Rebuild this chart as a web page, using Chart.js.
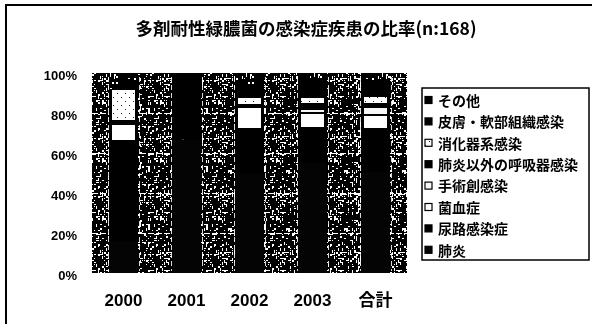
<!DOCTYPE html>
<html>
<head>
<meta charset="utf-8">
<script src="https://cdn.jsdelivr.net/npm/chart.js@4/dist/chart.umd.min.js"></script>
<style>
  html, body { margin: 0; padding: 0; background: #fff; }
  #wrap { width: 592px; height: 324px; position: relative; }
</style>
</head>
<body>
<div id="wrap"><canvas id="c" width="592" height="324"></canvas></div>
<script>
// Share of infection types among multidrug-resistant Pseudomonas cases, by year (%)
const categories = ['2000', '2001', '2002', '2003', '合計'];
const seriesNames = ['肺炎', '尿路感染症', '菌血症', '手術創感染', '肺炎以外の呼吸器感染', '消化器系感染', '皮膚・軟部組織感染', 'その他'];
const pneumonia        = [16,   66.7, 50, 55,   50.5];
const urinaryTract     = [50,   33.3, 22, 17.5, 21.5];
const bacteremia       = [8.5,  0,    11, 7.5,  7];
const surgicalSite     = [0,    0,    0,  2,    4];
const otherRespiratory = [1.5,  0,    1,  2.5,  1.5];
const digestive        = [16,   0,    4,  3.5,  4];
const skinSoftTissue   = [0,    0,    6,  9.5,  8];
const other            = [8,    0,    6,  2.5,  3.5];
const yTickLabels = ['0%', '20%', '40%', '60%', '80%', '100%'];
const chartTitle = '多剤耐性緑膿菌の感染症疾患の比率(n:168)';

const CJK = '"Noto Sans CJK JP", sans-serif';
const LAT = '"Liberation Sans", "Noto Sans CJK JP", sans-serif';

// Fixed dither texture: dark tile with light specks (hash based, repeatable)
function speckle(size, density, ink, paper) {
  const c = document.createElement('canvas');
  c.width = c.height = size;
  const g = c.getContext('2d');
  g.fillStyle = paper; g.fillRect(0, 0, size, size);
  g.fillStyle = ink;
  for (let y = 0; y < size; y += 2) {
    for (let x = 0; x < size; x += 2) {
      let h = Math.imul(x + 3, 374761393) ^ Math.imul(y + 11, 668265263);
      h = Math.imul(h ^ (h >>> 15), 2246822519);
      h = Math.imul(h ^ (h >>> 13), 3266489917);
      h ^= h >>> 16;
      const v = (h >>> 0) % 1000;
      if (v < density * 1000) {
        if (v % 4 === 0) g.fillRect(x, y, 2, 1);
        else if (v % 4 === 1) g.fillRect(x, y, 1, 3);
        else if (v % 4 === 2) g.fillRect(x, y, 1, 1);
        else g.fillRect(x, y, 2, 2);
      }
    }
  }
  return g.createPattern(c, 'repeat');
}
// light dotted fill
function dotted() {
  const c = document.createElement('canvas');
  c.width = c.height = 8;
  const g = c.getContext('2d');
  g.fillStyle = '#fff'; g.fillRect(0, 0, 8, 8);
  g.fillStyle = '#222';
  g.fillRect(1, 1, 1, 1); g.fillRect(5, 5, 1, 1);
  return g.createPattern(c, 'repeat');
}

const plotBg = speckle(58, 0.30, '#ffffff', '#000000');
const darkFill = speckle(34, 0.08, '#ffffff', '#000000');
const dotFill = dotted();

const values = [pneumonia, urinaryTract, bacteremia, surgicalSite, otherRespiratory, digestive, skinSoftTissue, other];
const fills = ['#040404', '#000000', '#ffffff', '#f6f6f6', '#020202', dotFill, '#000000', darkFill];
const light = [false, false, true, true, false, true, false, false];

const datasets = seriesNames.map((name, i) => ({
  label: name,
  data: values[i],
  backgroundColor: fills[i],
  borderColor: '#000',
  borderWidth: light[i] ? { left: 3, right: 3, top: 1, bottom: 1 } : 0,
  borderSkipped: false,
  barPercentage: 0.46,
  categoryPercentage: 1.0
}));

const decor = {
  id: 'decor',
  beforeDraw(chart) {
    const { ctx, chartArea: a } = chart;
    ctx.save();
    ctx.fillStyle = plotBg;
    ctx.fillRect(a.left, a.top, a.width, a.height);
    ctx.restore();
  },
  beforeDatasetsDraw(chart) {
    // broken light gridlines across the plot
    const { ctx, chartArea: a, scales } = chart;
    ctx.save();
    ctx.strokeStyle = '#ffffff';
    ctx.lineWidth = 1;
    ctx.setLineDash([6, 2]);
    [20, 40, 60, 80].forEach((v) => {
      const y = Math.round(scales.y.getPixelForValue(v)) + 0.5;
      ctx.beginPath();
      ctx.moveTo(a.left, y);
      ctx.lineTo(a.right, y);
      ctx.stroke();
    });
    ctx.restore();
  },
  afterDatasetsDraw(chart) {
    // broken light edges along each column
    const { ctx, chartArea: a } = chart;
    const meta = chart.getDatasetMeta(0);
    ctx.save();
    ctx.strokeStyle = 'rgba(255,255,255,0.85)';
    ctx.lineWidth = 1;
    ctx.setLineDash([5, 3]);
    meta.data.forEach((bar) => {
      const half = bar.width / 2;
      [bar.x - half - 1.5, bar.x + half + 1.5].forEach((x) => {
        ctx.beginPath();
        ctx.moveTo(Math.round(x) + 0.5, a.top + 4);
        ctx.lineTo(Math.round(x) + 0.5, a.bottom - 2);
        ctx.stroke();
      });
    });
    ctx.restore();
  },
  afterDraw(chart) {
    const ctx = chart.ctx;
    ctx.save();
    // outer frame (top and left edges)
    ctx.fillStyle = '#000';
    ctx.fillRect(5, 4, 587, 2);
    ctx.fillRect(5, 4, 2, 320);
    // title
    ctx.font = 'bold 17.5px ' + CJK;
    ctx.textAlign = 'center';
    ctx.textBaseline = 'middle';
    ctx.fillText(chartTitle, 306, 28);
    // legend box
    ctx.lineWidth = 1.5;
    ctx.strokeStyle = '#000';
    ctx.strokeRect(422, 88, 167, 172);
    ctx.font = 'bold 14px ' + CJK;
    ctx.textAlign = 'left';
    const ds = chart.data.datasets;
    for (let k = 0; k < ds.length; k++) {
      const i = ds.length - 1 - k;
      const y = 100 + k * 21.4;
      ctx.fillStyle = ds[i].backgroundColor;
      ctx.fillRect(425, y - 3.5, 7, 7);
      ctx.lineWidth = 1.2;
      ctx.strokeRect(425, y - 3.5, 7, 7);
      ctx.fillStyle = '#000';
      ctx.fillText(ds[i].label, 438, y + 0.5);
    }
    ctx.restore();
  }
};

new Chart(document.getElementById('c'), {
  type: 'bar',
  data: { labels: categories, datasets },
  plugins: [decor],
  options: {
    responsive: false,
    animation: false,
    devicePixelRatio: 1,
    layout: { padding: { top: 73, right: 185, left: 0, bottom: 0 } },
    plugins: { legend: { display: false }, title: { display: false }, tooltip: { enabled: false } },
    scales: {
      x: {
        stacked: true,
        grid: { display: false, drawTicks: false },
        border: { display: false },
        ticks: { color: '#000', font: { family: LAT, size: 17, weight: 'bold' }, padding: 18, maxRotation: 0 },
        afterFit(s) { s.height = 51; }
      },
      y: {
        stacked: true,
        min: 0, max: 100,
        grid: { display: false, drawTicks: false },
        border: { display: false },
        ticks: {
          stepSize: 20,
          color: '#000',
          padding: 15,
          labelOffset: 3,
          font: { family: LAT, size: 13, weight: 'bold' },
          callback: (v) => yTickLabels[Math.round(v / 20)]
        },
        afterFit(s) { s.width = 92; }
      }
    }
  }
});
</script>
</body>
</html>
